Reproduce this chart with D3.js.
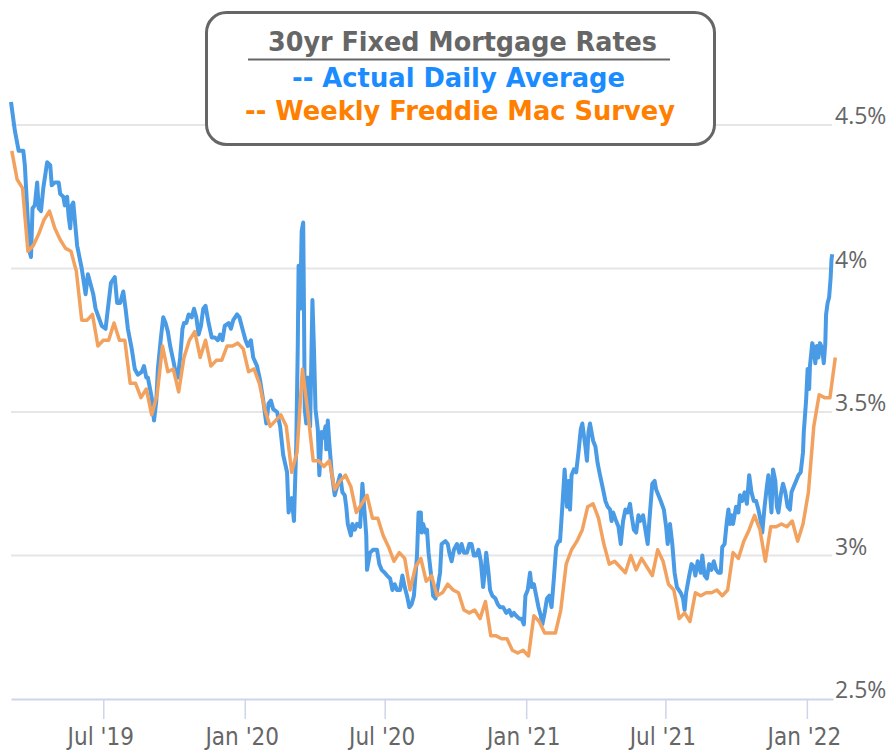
<!DOCTYPE html>
<html>
<head>
<meta charset="utf-8">
<script src="https://cdn.jsdelivr.net/npm/d3@7"></script>
<style>
  html, body { margin: 0; padding: 0; background: #fff; }
  svg { display: block; }
</style>
</head>
<body>
<div id="chart"></div>
<script>
// Daily average: days counted from startDay, and the rate on that day
const startDay = "2019-03-03";
const endDay = "2022-02-04";

const dailyDay = [
  0, 5, 10, 16, 18, 20, 24, 26, 28, 31, 34, 36, 39, 42, 47, 51, 53, 57, 62, 64,
  68, 70, 73, 75, 77, 79, 81, 84, 86, 89, 92, 97, 100, 103, 107, 110, 114, 118, 123, 126,
  130, 135, 138, 142, 146, 149, 152, 157, 161, 165, 170, 173, 176, 178, 183, 186, 189, 191, 195, 198,
  201, 204, 207, 211, 214, 217, 220, 223, 225, 228, 231, 235, 238, 241, 244, 247, 250, 253, 257, 261,
  265, 269, 272, 275, 278, 283, 286, 289, 294, 297, 300, 305, 308, 312, 315, 320, 324, 328, 332, 335,
  338, 341, 346, 350, 354, 359, 361, 365, 368, 371, 373, 374, 376, 378, 380, 381, 382, 384, 386, 389,
  392, 394, 396, 399, 401, 404, 406, 409, 410, 412, 414, 417, 421, 424, 428, 431, 434, 436, 438, 442,
  444, 447, 450, 454, 457, 459, 462, 463, 467, 471, 476, 479, 482, 486, 489, 493, 496, 499, 502, 506,
  509, 512, 515, 518, 521, 524, 528, 530, 533, 534, 536, 539, 541, 543, 546, 549, 552, 555, 558, 560,
  565, 568, 570, 573, 576, 580, 583, 586, 589, 593, 596, 599, 602, 605, 608, 611, 614, 616, 618, 621,
  623, 626, 630, 633, 636, 640, 644, 648, 651, 654, 657, 661, 664, 667, 669, 672, 675, 677, 680, 683,
  686, 689, 691, 694, 697, 700, 703, 706, 709, 712, 714, 717, 720, 723, 725, 727, 729, 732, 735, 738,
  741, 743, 747, 749, 751, 753, 757, 760, 763, 766, 770, 773, 776, 779, 781, 783, 787, 790, 793, 796,
  799, 802, 805, 807, 810, 813, 816, 818, 822, 825, 828, 831, 834, 837, 839, 842, 845, 849, 852, 854,
  857, 860, 863, 866, 871, 874, 876, 878, 882, 885, 888, 890, 893, 897, 899, 902, 905, 908, 911, 914,
  917, 920, 923, 925, 928, 931, 933, 935, 937, 939, 943, 946, 948, 951, 954, 957, 960, 963, 966, 969,
  972, 975, 977, 980, 983, 985, 987, 989, 991, 994, 996, 998, 1001, 1004, 1007, 1010, 1013, 1015, 1018, 1021,
  1024, 1027, 1030, 1031, 1034, 1036, 1038, 1039, 1042, 1044, 1046, 1048, 1050, 1052, 1055, 1057, 1059, 1060, 1062, 1064,
  1066, 1067, 1068
];

const dailyRate = [
  4.58, 4.48, 4.41, 4.41, 4.36, 4.26, 4.06, 4.04, 4.21, 4.22, 4.30, 4.21, 4.20, 4.28, 4.37, 4.36, 4.29, 4.30, 4.30, 4.26,
  4.25, 4.22, 4.25, 4.18, 4.14, 4.22, 4.23, 4.14, 4.08, 4.04, 4.00, 3.91, 3.98, 3.95, 3.91, 3.86, 3.83, 3.80, 3.79, 3.86,
  3.95, 3.97, 3.88, 3.88, 3.92, 3.86, 3.79, 3.72, 3.65, 3.63, 3.64, 3.66, 3.62, 3.62, 3.55, 3.47, 3.54, 3.65, 3.76, 3.83,
  3.81, 3.78, 3.73, 3.68, 3.64, 3.62, 3.69, 3.79, 3.81, 3.81, 3.84, 3.83, 3.86, 3.83, 3.77, 3.80, 3.86, 3.87, 3.81, 3.76,
  3.76, 3.75, 3.77, 3.75, 3.80, 3.81, 3.79, 3.82, 3.84, 3.83, 3.80, 3.75, 3.73, 3.75, 3.69, 3.66, 3.61, 3.54, 3.46, 3.53,
  3.54, 3.51, 3.50, 3.45, 3.35, 3.29, 3.15, 3.20, 3.12, 3.39, 3.74, 4.01, 3.86, 4.13, 4.16, 3.86, 3.51, 3.46, 3.62, 3.45,
  3.89, 3.72, 3.51, 3.44, 3.28, 3.43, 3.41, 3.45, 3.37, 3.47, 3.39, 3.29, 3.21, 3.24, 3.28, 3.22, 3.21, 3.17, 3.11, 3.07,
  3.11, 3.09, 3.11, 3.10, 3.25, 3.18, 3.07, 2.95, 3.01, 3.02, 3.02, 2.97, 2.95, 2.94, 2.93, 2.92, 2.88, 2.90, 2.88, 2.88,
  2.93, 2.89, 2.86, 2.82, 2.83, 2.86, 3.00, 3.15, 3.15, 3.08, 3.11, 3.08, 3.09, 3.01, 2.94, 2.86, 2.85, 2.89, 2.94, 3.04,
  3.05, 3.04, 3.01, 2.98, 3.02, 3.04, 3.01, 3.04, 3.01, 3.01, 3.04, 3.04, 3.00, 3.00, 3.02, 2.98, 2.89, 2.94, 3.01, 2.94,
  2.88, 2.86, 2.85, 2.83, 2.82, 2.82, 2.80, 2.81, 2.79, 2.80, 2.79, 2.78, 2.78, 2.76, 2.86, 2.88, 2.94, 2.89, 2.90, 2.86,
  2.82, 2.79, 2.76, 2.80, 2.85, 2.86, 2.82, 2.92, 3.03, 3.05, 3.05, 3.17, 3.30, 3.17, 3.26, 3.16, 3.28, 3.30, 3.29, 3.36,
  3.44, 3.46, 3.38, 3.33, 3.43, 3.46, 3.40, 3.38, 3.32, 3.28, 3.23, 3.19, 3.17, 3.16, 3.12, 3.15, 3.12, 3.10, 3.04, 3.12,
  3.16, 3.15, 3.18, 3.14, 3.09, 3.08, 3.14, 3.12, 3.14, 3.09, 3.04, 3.15, 3.25, 3.26, 3.23, 3.21, 3.19, 3.16, 3.10, 3.04,
  3.11, 3.04, 2.94, 2.89, 2.87, 2.85, 2.81, 2.87, 2.93, 2.97, 2.96, 2.93, 2.98, 2.94, 3.00, 2.93, 2.92, 2.97, 2.95, 2.98,
  2.95, 2.94, 2.94, 3.03, 3.04, 3.12, 3.16, 3.11, 3.14, 3.11, 3.17, 3.15, 3.21, 3.19, 3.22, 3.18, 3.28, 3.22, 3.19, 3.19,
  3.16, 3.12, 3.08, 3.17, 3.24, 3.28, 3.22, 3.15, 3.30, 3.26, 3.17, 3.15, 3.21, 3.25, 3.22, 3.17, 3.16, 3.22, 3.24, 3.26,
  3.28, 3.29, 3.36, 3.43, 3.54, 3.65, 3.58, 3.66, 3.74, 3.72, 3.67, 3.73, 3.69, 3.74, 3.72, 3.67, 3.74, 3.84, 3.88, 3.90,
  3.97, 4.03, 4.05
];

// Weekly survey, one value per week starting at weeklyStart
const weeklyStart = "2019-03-04";
const weeklyRate = [
  4.41, 4.31, 4.28, 4.06, 4.08, 4.12, 4.17, 4.20, 4.14, 4.10, 4.07, 4.06, 3.99, 3.82, 3.82, 3.84, 3.73, 3.75, 3.75, 3.81,
  3.75, 3.75, 3.60, 3.60, 3.55, 3.58, 3.49, 3.56, 3.73, 3.64, 3.65, 3.57, 3.69, 3.75, 3.78, 3.69, 3.75, 3.66, 3.68, 3.68,
  3.73, 3.73, 3.74, 3.72, 3.64, 3.65, 3.60, 3.51, 3.45, 3.47, 3.49, 3.45, 3.29, 3.36, 3.65, 3.50, 3.33, 3.33, 3.31, 3.33,
  3.23, 3.26, 3.28, 3.24, 3.15, 3.18, 3.21, 3.13, 3.13, 3.07, 3.03, 2.98, 3.01, 2.99, 2.88, 2.96, 2.99, 2.91, 2.93, 2.86,
  2.87, 2.90, 2.88, 2.87, 2.81, 2.80, 2.81, 2.78, 2.84, 2.72, 2.72, 2.71, 2.71, 2.67, 2.66, 2.67, 2.65, 2.79, 2.77, 2.73,
  2.73, 2.73, 2.81, 2.97, 3.02, 3.05, 3.09, 3.17, 3.18, 3.13, 3.04, 2.97, 2.98, 2.96, 2.94, 3.00, 2.95, 2.99, 2.96, 2.93,
  3.02, 2.98, 2.90, 2.88, 2.78, 2.80, 2.77, 2.87, 2.86, 2.87, 2.87, 2.88, 2.86, 2.88, 3.01, 2.99, 3.05, 3.09, 3.14, 3.09,
  2.98, 3.10, 3.10, 3.11, 3.10, 3.12, 3.05, 3.11, 3.22, 3.45, 3.56, 3.55, 3.55, 3.69
];

const tickDates = ["2019-07-01", "2020-01-01", "2020-07-01", "2021-01-01", "2021-07-01", "2022-01-01"];
const yTicks = [2.5, 3, 3.5, 4, 4.5];

const legendTitle = "30yr Fixed Mortgage Rates";
const legendDaily = "-- Actual Daily Average";
const legendWeekly = "-- Weekly Freddie Mac Survey";

let w = 892,
    h = 750;

let parseDate = d3.timeParse("%Y-%m-%d");
let start = parseDate(startDay);
let weekStart = parseDate(weeklyStart);

let daily = dailyDay.map((d, i) => ({ date: d3.timeDay.offset(start, d), rate: dailyRate[i] }));
let weekly = weeklyRate.map((r, i) => ({ date: d3.timeDay.offset(weekStart, i * 7), rate: r }));

let x = d3.scaleTime()
          .domain([start, parseDate(endDay)])
          .range([11, 833]);

let y = d3.scaleLinear()
          .domain([2.5, 4.5])
          .range([699, 125]);

let svg = d3.select("#chart")
            .append("svg")
            .attr("width", w)
            .attr("height", h);

// horizontal grid lines (the 2.5% line is the x axis itself)
svg.append("g")
   .selectAll("line")
   .data(yTicks.filter(d => d > 2.5))
   .enter()
   .append("line")
   .attr("x1", 11)
   .attr("x2", 832)
   .attr("y1", d => y(d))
   .attr("y2", d => y(d))
   .attr("stroke", "#e6e6e6")
   .attr("stroke-width", 2);

// y labels on the right
svg.append("g")
   .selectAll("text")
   .data(yTicks)
   .enter()
   .append("text")
   .attr("x", 835)
   .attr("y", d => y(d) - 1)
   .attr("fill", "#666")
   .style("font-family", "'Open Sans', 'Noto Sans', sans-serif")
   .style("font-size", "23px")
   .text(d => `${d}%`);

// x axis
let xAxis = d3.axisBottom(x)
              .tickValues(tickDates.map(parseDate))
              .tickFormat(d3.timeFormat("%b '%y"))
              .tickSize(20)
              .tickSizeOuter(0);

let gx = svg.append("g")
            .attr("transform", `translate(0, ${y(2.5)})`)
            .call(xAxis);

gx.select(".domain")
  .attr("stroke", "#ccd6eb")
  .attr("stroke-width", 2);

gx.selectAll(".tick line")
  .attr("stroke", "#ccd6eb")
  .attr("stroke-width", 1.5);

gx.selectAll(".tick text")
  .attr("x", -3)
  .attr("y", 46)
  .attr("dy", 0)
  .attr("fill", "#666")
  .style("font-family", "'Liberation Sans Narrow', 'DejaVu Sans Condensed', sans-serif")
  .style("font-size", "24px");

// lines
let line = d3.line()
             .x(d => x(d.date))
             .y(d => y(d.rate));

svg.append("path")
   .datum(daily)
   .attr("d", line)
   .attr("fill", "none")
   .attr("stroke", "#4a9be6")
   .attr("stroke-width", 4)
   .attr("stroke-linejoin", "round");

svg.append("path")
   .datum(weekly)
   .attr("d", line)
   .attr("fill", "none")
   .attr("stroke", "#f2a25e")
   .attr("stroke-width", 3.5)
   .attr("stroke-linejoin", "round");

// legend box
let legend = svg.append("g");

legend.append("rect")
      .attr("x", 206.5)
      .attr("y", 12.5)
      .attr("width", 508)
      .attr("height", 132)
      .attr("rx", 20)
      .attr("fill", "#fff")
      .attr("stroke", "#666")
      .attr("stroke-width", 3);

let legendFont = (sel) => sel.style("font-family", "'DejaVu Sans', sans-serif")
                             .style("font-weight", "bold")
                             .style("font-size", "26px")
                             .attr("text-anchor", "middle")
                             .attr("lengthAdjust", "spacingAndGlyphs");

legend.append("text")
      .attr("x", 462.5)
      .attr("y", 51)
      .attr("fill", "#666")
      .attr("textLength", 389)
      .call(legendFont)
      .text(legendTitle);

legend.append("line")
      .attr("x1", 248)
      .attr("x2", 670)
      .attr("y1", 59.5)
      .attr("y2", 59.5)
      .attr("stroke", "#666")
      .attr("stroke-width", 2);

legend.append("text")
      .attr("x", 458.5)
      .attr("y", 87)
      .attr("fill", "#1a8cff")
      .attr("textLength", 333)
      .call(legendFont)
      .text(legendDaily);

legend.append("text")
      .attr("x", 460)
      .attr("y", 120)
      .attr("fill", "#ff8000")
      .attr("textLength", 430)
      .call(legendFont)
      .text(legendWeekly);
</script>
</body>
</html>
